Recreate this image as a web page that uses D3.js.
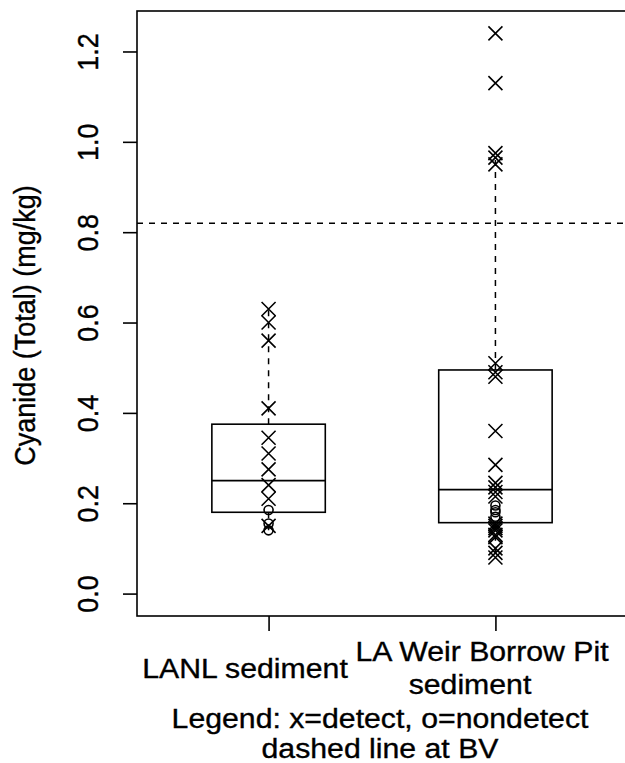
<!DOCTYPE html>
<html>
<head>
<meta charset="utf-8">
<script src="https://cdn.jsdelivr.net/npm/d3@7"></script>
<style>
  body { margin: 0; background: #fff; }
  svg { display: block; font-family: "Liberation Sans", Arial, sans-serif; }
  .lbl { font-size: 27px; fill: #000; stroke: #000; stroke-width: 0.35px; }
</style>
</head>
<body>
<div id="chart"></div>
<script>
// groups and box stats
const groups = ["LANL sediment", "LA Weir Borrow Pit"];
const groupLines = [["LANL sediment"], ["LA Weir Borrow Pit", "sediment"]];
const q1 = [0.18, 0.157];
const med = [0.25, 0.23];
const q3 = [0.375, 0.495];
const whiskLo = [0.14, 0.08];
const whiskHi = [0.63, 0.975];

// individual results
const lanlDetect = [0.63, 0.60, 0.56, 0.41, 0.345, 0.31, 0.275, 0.24, 0.21, 0.15];
const lanlNondetect = [0.185, 0.155, 0.14];
const weirDetect = [1.24, 1.13, 0.975, 0.965, 0.95, 0.51, 0.49, 0.48, 0.36, 0.285,
                    0.245, 0.235, 0.225, 0.215, 0.155, 0.15, 0.145, 0.14, 0.13, 0.125,
                    0.10, 0.09, 0.08];
const weirNondetect = [0.195, 0.185, 0.18, 0.17];

const bv = 0.82;
const yTicks = [0, 0.2, 0.4, 0.6, 0.8, 1.0, 1.2];
const yTitle = "Cyanide (Total) (mg/kg)";
const legendLines = ["Legend: x=detect, o=nondetect", "dashed line at BV"];

const W = 625, H = 763;
const pLeft = 137, pRight = 627, pTop = 11, pBottom = 616;
const stretch = 1.12; // text in the picture is a bit wider than plain Arial

const svg = d3.select('#chart').append('svg')
    .attr('width', W)
    .attr('height', H);

const x = d3.scaleLinear().domain([0.42, 2.58]).range([pLeft, pRight]);
const y = d3.scaleLinear().domain([-0.0496, 1.2896]).range([pBottom, pTop]);
const boxHalf = 0.25;

// plot frame
svg.append('rect')
    .attr('x', pLeft).attr('y', pTop)
    .attr('width', pRight - pLeft).attr('height', pBottom - pTop)
    .attr('fill', 'none').attr('stroke', '#000').attr('stroke-width', 1.6);

// y axis
const yAxis = svg.append('g')
    .attr('transform', `translate(${pLeft},0)`)
    .call(d3.axisLeft(y).tickValues(yTicks).tickSize(14).tickFormat(d3.format('.1f')));
yAxis.attr('font-size', null).attr('font-family', null);
yAxis.select('.domain').remove();
yAxis.selectAll('line').attr('stroke', '#000').attr('stroke-width', 1.6);
yAxis.selectAll('text')
    .attr('class', 'lbl')
    .attr('fill', null)
    .attr('transform', `rotate(-90) scale(1,${stretch})`)
    .attr('x', 0).attr('y', -39 / stretch).attr('dy', null)
    .attr('text-anchor', 'middle');

// x axis (ticks only)
const xAxis = svg.append('g')
    .attr('transform', `translate(0,${pBottom})`)
    .call(d3.axisBottom(x).tickValues([1, 2]).tickSize(15).tickFormat(''));
xAxis.select('.domain').remove();
xAxis.selectAll('line').attr('stroke', '#000').attr('stroke-width', 1.6);

const hText = (t, cx, by) => svg.append('text').attr('class', 'lbl')
    .attr('transform', `translate(${cx},${by}) scale(${stretch},1)`)
    .attr('text-anchor', 'middle').text(t);

// category labels
const catPos = [
    [[245, 678]],
    [[482, 661], [470, 694]]
];
groupLines.forEach((lines, gi) => {
    lines.forEach((t, li) => hText(t, catPos[gi][li][0], catPos[gi][li][1]));
});

// legend text under the axis
legendLines.forEach((t, i) => hText(t, 380, 728 + i * 30));

// y title
svg.append('text').attr('class', 'lbl')
    .attr('transform', `translate(35,${(pTop + pBottom) / 2 + 12}) rotate(-90) scale(1,${stretch})`)
    .attr('text-anchor', 'middle').text(yTitle);

// BV line
svg.append('line')
    .attr('x1', pLeft).attr('x2', pRight)
    .attr('y1', y(bv)).attr('y2', y(bv))
    .attr('stroke', '#000').attr('stroke-width', 1.5)
    .attr('stroke-dasharray', '6,6');

// boxes
const boxes = svg.append('g').selectAll('g')
    .data(groups.map((g, i) => ({g, i, pos: i + 1})))
    .enter().append('g');

boxes.append('line')
    .attr('x1', d => x(d.pos)).attr('x2', d => x(d.pos))
    .attr('y1', d => y(q3[d.i])).attr('y2', d => y(whiskHi[d.i]))
    .attr('stroke', '#000').attr('stroke-width', 1.5).attr('stroke-dasharray', '6,6');
boxes.append('line')
    .attr('x1', d => x(d.pos)).attr('x2', d => x(d.pos))
    .attr('y1', d => y(q1[d.i])).attr('y2', d => y(whiskLo[d.i]))
    .attr('stroke', '#000').attr('stroke-width', 1.5).attr('stroke-dasharray', '6,6');
boxes.append('rect')
    .attr('x', d => x(d.pos - boxHalf))
    .attr('width', d => x(d.pos + boxHalf) - x(d.pos - boxHalf))
    .attr('y', d => y(q3[d.i]))
    .attr('height', d => y(q1[d.i]) - y(q3[d.i]))
    .attr('fill', 'none').attr('stroke', '#000').attr('stroke-width', 1.6);
boxes.append('line')
    .attr('x1', d => x(d.pos - boxHalf)).attr('x2', d => x(d.pos + boxHalf))
    .attr('y1', d => y(med[d.i])).attr('y2', d => y(med[d.i]))
    .attr('stroke', '#000').attr('stroke-width', 1.8);

// points
const detects = [lanlDetect, weirDetect];
const nondetects = [lanlNondetect, weirNondetect];
const s = 7;
detects.forEach((vals, gi) => {
    svg.append('g').selectAll('path')
        .data(vals).enter().append('path')
        .attr('d', v => {
            const cx = x(gi + 1), cy = y(v);
            return `M${cx - s},${cy - s}L${cx + s},${cy + s}M${cx - s},${cy + s}L${cx + s},${cy - s}`;
        })
        .attr('stroke', '#000').attr('stroke-width', 1.6).attr('fill', 'none');
});
nondetects.forEach((vals, gi) => {
    svg.append('g').selectAll('circle')
        .data(vals).enter().append('circle')
        .attr('cx', x(gi + 1)).attr('cy', v => y(v)).attr('r', 4.5)
        .attr('stroke', '#000').attr('stroke-width', 1.6).attr('fill', 'none');
});
</script>
</body>
</html>
